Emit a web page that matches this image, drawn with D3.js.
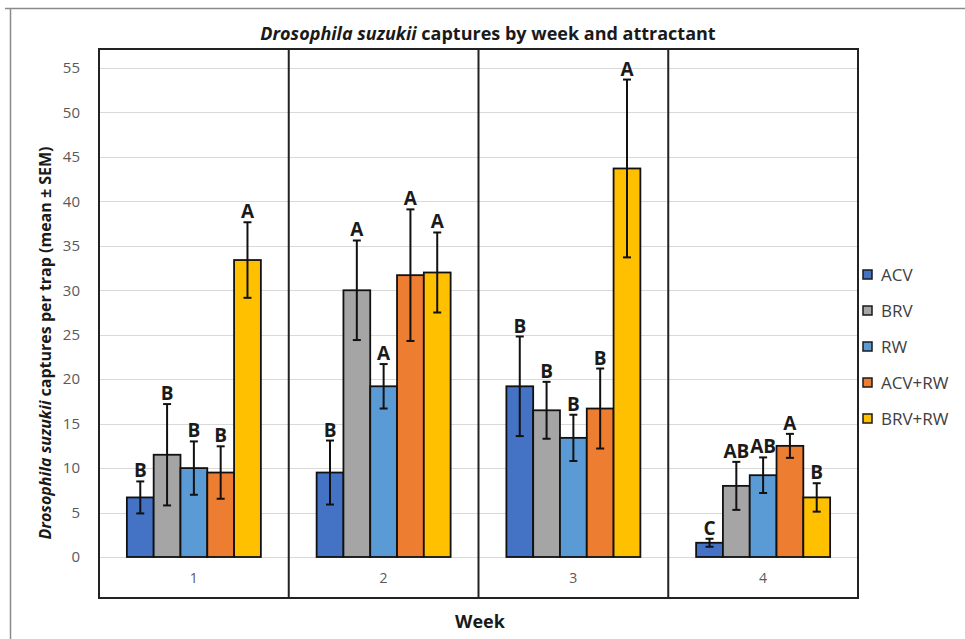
<!DOCTYPE html>
<html>
<head>
<meta charset="utf-8">
<script src="https://cdn.jsdelivr.net/npm/d3@7"></script>
<style>
  html, body { margin: 0; padding: 0; background: #fff; }
  svg { display: block; font-family: "Open Sans", "Liberation Sans", sans-serif; }
</style>
</head>
<body>
<svg id="chart" width="965" height="639"></svg>
<script>
// Weekly trap captures (mean ± SEM) with letter groupings
const weeks = ["1", "2", "3", "4"];
const attractants = ["ACV", "BRV", "RW", "ACV+RW", "BRV+RW"];
const colors = ["#4472C4", "#A5A5A5", "#5B9BD5", "#ED7D31", "#FFC000"];

const meanACV   = [6.7, 9.5, 19.2, 1.6];
const meanBRV   = [11.5, 30.0, 16.5, 8.0];
const meanRW    = [10.0, 19.2, 13.4, 9.2];
const meanACVRW = [9.5, 31.7, 16.7, 12.5];
const meanBRVRW = [33.4, 32.0, 43.7, 6.7];

const semACV   = [1.8, 3.6, 5.6, 0.45];
const semBRV   = [5.7, 5.6, 3.2, 2.7];
const semRW    = [3.0, 2.5, 2.6, 2.0];
const semACVRW = [2.95, 7.4, 4.5, 1.35];
const semBRVRW = [4.25, 4.5, 10.0, 1.6];

const lettersACV   = ["B", "B", "B", "C"];
const lettersBRV   = ["B", "A", "B", "AB"];
const lettersRW    = ["B", "A", "B", "AB"];
const lettersACVRW = ["B", "A", "B", "A"];
const lettersBRVRW = ["A", "A", "A", "B"];

const yTicks = [0, 5, 10, 15, 20, 25, 30, 35, 40, 45, 50, 55];

const means = [meanACV, meanBRV, meanRW, meanACVRW, meanBRVRW];
const sems = [semACV, semBRV, semRW, semACVRW, semBRVRW];
const letters = [lettersACV, lettersBRV, lettersRW, lettersACVRW, lettersBRVRW];

const rows = [];
weeks.forEach((w, wi) => {
  attractants.forEach((a, ai) => {
    rows.push({ week: w, attr: a, ai, mean: means[ai][wi], sem: sems[ai][wi], letter: letters[ai][wi] });
  });
});

const svg = d3.select("#chart");

// Outer frame (top and left edges)
svg.append("line").attr("x1", 5).attr("x2", 965).attr("y1", 8.5).attr("y2", 8.5)
  .attr("stroke", "#8a8a8a").attr("stroke-width", 1.5);
svg.append("line").attr("x1", 10.5).attr("x2", 10.5).attr("y1", 8).attr("y2", 639)
  .attr("stroke", "#8a8a8a").attr("stroke-width", 1.5);

const plot = { left: 99, right: 858, top: 49, bottom: 598 };

const x = d3.scaleBand().domain(weeks).range([plot.left, plot.right]).padding(0);
const groupWidth = 134;
const xs = d3.scaleBand().domain(attractants).range([-groupWidth / 2, groupWidth / 2]).padding(0);
const y = d3.scaleLinear().domain([0, 55]).range([557, 68]);

// Gridlines
svg.append("g").selectAll("line").data(yTicks).join("line")
  .attr("x1", plot.left).attr("x2", plot.right)
  .attr("y1", d => Math.round(y(d)) + 0.5).attr("y2", d => Math.round(y(d)) + 0.5)
  .attr("stroke", "#d9d9d9").attr("stroke-width", 1);

// Y axis tick labels
const yAxis = d3.axisLeft(y).tickValues(yTicks).tickSize(0).tickPadding(0);
const yg = svg.append("g").attr("transform", `translate(${80},0)`).call(yAxis);
yg.select(".domain").remove();
yg.selectAll("text").attr("font-size", 15).attr("fill", "#595959")
  .attr("font-family", "'Open Sans', sans-serif");

// Bars
const barG = svg.append("g");
barG.selectAll("rect").data(rows).join("rect")
  .attr("x", d => x(d.week) + x.bandwidth() / 2 + xs(d.attr))
  .attr("width", xs.bandwidth())
  .attr("y", d => y(d.mean))
  .attr("height", d => y(0) - y(d.mean))
  .attr("fill", d => colors[d.ai])
  .attr("stroke", "#111").attr("stroke-width", 1.8);

// Error bars
const cx = d => x(d.week) + x.bandwidth() / 2 + xs(d.attr) + xs.bandwidth() / 2;
const errG = svg.append("g").attr("stroke", "#111").attr("stroke-width", 2);
errG.selectAll("line.v").data(rows).join("line").attr("class", "v")
  .attr("x1", cx).attr("x2", cx)
  .attr("y1", d => y(d.mean + d.sem)).attr("y2", d => y(d.mean - d.sem));
errG.selectAll("line.t").data(rows).join("line").attr("class", "t")
  .attr("x1", d => cx(d) - 4).attr("x2", d => cx(d) + 4)
  .attr("y1", d => y(d.mean + d.sem)).attr("y2", d => y(d.mean + d.sem));
errG.selectAll("line.b").data(rows).join("line").attr("class", "b")
  .attr("x1", d => cx(d) - 4).attr("x2", d => cx(d) + 4)
  .attr("y1", d => y(d.mean - d.sem)).attr("y2", d => y(d.mean - d.sem));

// Significance letters
svg.append("g").selectAll("text").data(rows).join("text")
  .attr("x", cx).attr("y", d => y(d.mean + d.sem) - 4)
  .attr("text-anchor", "middle")
  .attr("font-size", 19).attr("font-weight", "bold").attr("fill", "#1a1a1a")
  .attr("font-family", "'Open Sans', sans-serif")
  .text(d => d.letter);

// Week panel separators
svg.append("g").selectAll("line").data(weeks.slice(1)).join("line")
  .attr("x1", d => x(d)).attr("x2", d => x(d))
  .attr("y1", plot.top).attr("y2", plot.bottom)
  .attr("stroke", "#222").attr("stroke-width", 2);

// Plot frame
svg.append("rect").attr("x", plot.left).attr("y", plot.top)
  .attr("width", plot.right - plot.left).attr("height", plot.bottom - plot.top)
  .attr("fill", "none").attr("stroke", "#222").attr("stroke-width", 2);

// Week labels
svg.append("g").selectAll("text").data(weeks).join("text")
  .attr("x", d => x(d) + x.bandwidth() / 2).attr("y", 583)
  .attr("text-anchor", "middle").attr("font-size", 14).attr("fill", "#595959")
  .text(d => d);

// Title
const title = svg.append("text").attr("x", 488).attr("y", 40).attr("text-anchor", "middle")
  .attr("font-size", 18).attr("font-weight", "bold").attr("fill", "#1a1a1a")
  .attr("font-family", "'Liberation Sans Narrow', 'Open Sans', sans-serif");
title.append("tspan").attr("font-style", "italic").text("Drosophila suzukii");
title.append("tspan").text(" captures by week and attractant");

// Y axis title
const yTitle = svg.append("text")
  .attr("transform", `translate(51,343) rotate(-90)`)
  .attr("text-anchor", "middle").attr("font-size", 16).attr("font-weight", "bold").attr("fill", "#1a1a1a");
yTitle.append("tspan").attr("font-style", "italic").text("Drosophila suzukii");
yTitle.append("tspan").text(" captures  per trap (mean ± SEM)");

// X axis title
svg.append("text").attr("x", 480).attr("y", 628).attr("text-anchor", "middle")
  .attr("font-size", 18).attr("font-weight", "bold").attr("fill", "#1a1a1a").text("Week");

// Legend
const legend = svg.append("g").selectAll("g").data(attractants).join("g")
  .attr("transform", (d, i) => `translate(863,${275 + i * 36})`);
legend.append("rect").attr("x", 0).attr("y", -5).attr("width", 9).attr("height", 9)
  .attr("fill", (d, i) => colors[i]).attr("stroke", "#1a1a1a").attr("stroke-width", 1.5);
legend.append("text").attr("x", 18).attr("y", 6).attr("font-size", 17).attr("fill", "#404040")
  .text(d => d);
</script>
</body>
</html>
